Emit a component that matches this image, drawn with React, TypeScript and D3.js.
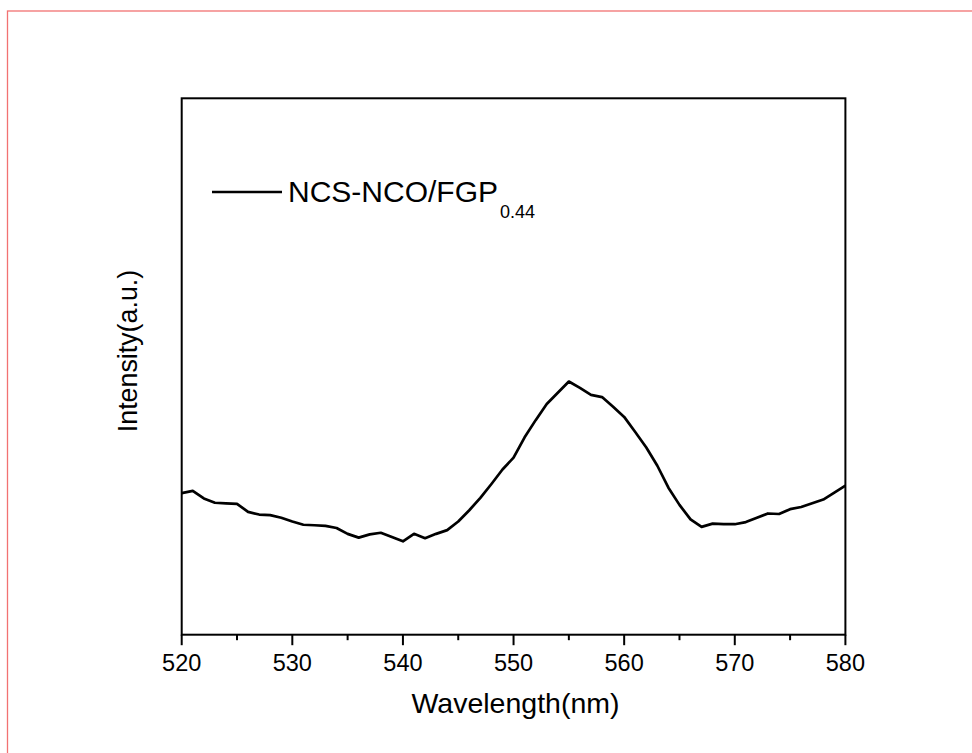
import React from "react";
import * as d3 from "d3";

const wavelengths = [
  520, 521, 522, 523, 524, 525, 526, 527, 528, 529, 530, 531, 532, 533, 534, 535, 536, 537, 538, 539,
  540, 541, 542, 543, 544, 545, 546, 547, 548, 549, 550, 551, 552, 553, 554, 555, 556, 557, 558, 559,
  560, 561, 562, 563, 564, 565, 566, 567, 568, 569, 570, 571, 572, 573, 574, 575, 576, 577, 578, 579, 580,
];
const intensity = [
  264, 268, 254, 246, 245, 244, 229, 224, 223, 218, 211, 205, 204, 203, 199, 188, 181, 187, 190, 182,
  174, 188, 180, 188, 195, 211, 232, 255, 281, 308, 330, 368, 400, 430, 451, 472, 460, 447, 443, 425,
  406, 378, 349, 315, 274, 242, 215, 201, 207, 206, 206, 210, 218, 226, 225, 234, 238, 245, 252, 265, 278,
];
const majorTicks = [520, 530, 540, 550, 560, 570, 580];
const minorTicks = [525, 535, 545, 555, 565, 575];
const seriesName = "NCS-NCO/FGP";
const seriesSub = "0.44";
const xTitle = "Wavelength(nm)";
const yTitle = "Intensity(a.u.)";

export default function App() {
  const W = 972, H = 753;
  const left = 181.7, right = 845.4, top = 98.3, bottom = 634.7;
  const x = d3.scaleLinear().domain([520, 580]).range([left, right]);
  const y = d3.scaleLinear().domain([0, 1000]).range([bottom, top]);
  const pts = wavelengths.map((w, i) => [w, intensity[i]] as [number, number]);
  const line = d3.line<[number, number]>().x((d) => x(d[0])).y((d) => y(d[1]));
  const font = "Arial, 'Liberation Sans', Helvetica, sans-serif";
  return (
    <svg width={W} height={H} style={{ position: "fixed", left: 0, top: 0, background: "#fff" }}>
      <rect x={0} y={0} width={W} height={H} fill="#fff" />
      <rect x={7.5} y={11} width={W + 20} height={H + 20} fill="none" stroke="#f27272" strokeWidth={1.3} />
      <path d={line(pts) || ""} fill="none" stroke="#000" strokeWidth={2.7} strokeLinejoin="round" />
      <rect x={left} y={top} width={right - left} height={bottom - top} fill="none" stroke="#000" strokeWidth={2} />
      {majorTicks.map((t) => (
        <g key={t}>
          <line x1={x(t)} x2={x(t)} y1={bottom} y2={bottom + 10.5} stroke="#000" strokeWidth={2} />
          <text x={x(t)} y={671} textAnchor="middle" fontFamily={font} fontSize={23.5} fill="#000">
            {t}
          </text>
        </g>
      ))}
      {minorTicks.map((t) => (
        <line key={t} x1={x(t)} x2={x(t)} y1={bottom} y2={bottom + 5.5} stroke="#000" strokeWidth={2} />
      ))}
      <text x={515.5} y={713} textAnchor="middle" fontFamily={font} fontSize={28.5} fill="#000">
        {xTitle}
      </text>
      <text
        transform={`translate(137, 351) rotate(-90)`}
        textAnchor="middle"
        fontFamily={font}
        fontSize={26.8}
        fill="#000"
      >
        {yTitle}
      </text>
      <line x1={212} x2={282} y1={192} y2={192} stroke="#000" strokeWidth={2.7} />
      <text x={288} y={202} fontFamily={font} fontSize={30} fill="#000">
        {seriesName}
        <tspan fontSize={18} dx={2} dy={16}>{seriesSub}</tspan>
      </text>
    </svg>
  );
}
